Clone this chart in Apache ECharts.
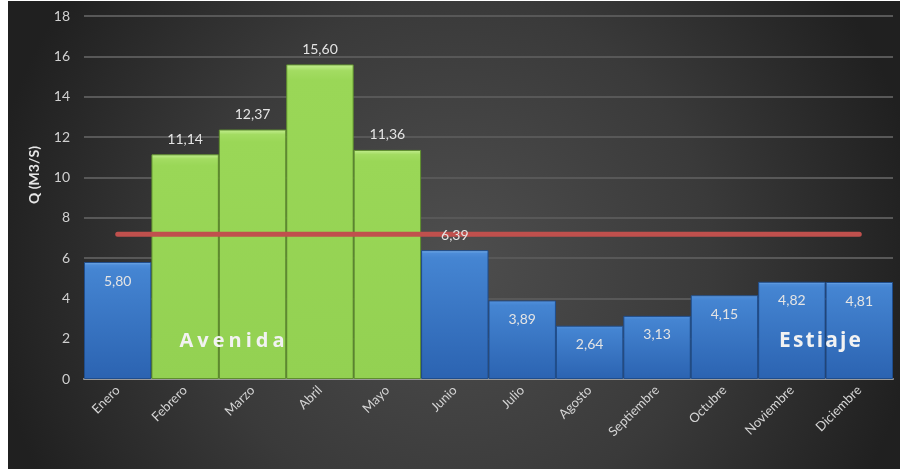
<!DOCTYPE html>
<html>
<head>
<meta charset="utf-8">
<script src="https://cdn.jsdelivr.net/npm/echarts@6/dist/echarts.min.js"></script>
<style>
  html, body { margin: 0; padding: 0; background: #ffffff; }
  #chart { position: absolute; left: 8px; top: 1px; width: 892px; height: 468px; }
</style>
</head>
<body>
<div id="chart"></div>
<script>
// Monthly discharge (m3/s)
const months = ['Enero', 'Febrero', 'Marzo', 'Abril', 'Mayo', 'Junio', 'Julio',
  'Agosto', 'Septiembre', 'Octubre', 'Noviembre', 'Diciembre'];
const caudal = [5.80, 11.14, 12.37, 15.60, 11.36, 6.39, 3.89, 2.64, 3.13, 4.15, 4.82, 4.81];
// Wet season months (Avenida) drawn in green
const avenida = [false, true, true, true, true, false, false, false, false, false, false, false];
// Annual mean discharge line
const caudalMedio = [7.18, 7.18, 7.18, 7.18, 7.18, 7.18, 7.18, 7.18, 7.18, 7.18, 7.18, 7.18];
const yTicks = [0, 2, 4, 6, 8, 10, 12, 14, 16, 18];

const FONT = 'Lato, "Open Sans", sans-serif';
const HS = '\u200A';

const blueFill = new echarts.graphic.LinearGradient(0, 0, 0, 1, [
  { offset: 0, color: '#7fb4ec' },
  { offset: 0.025, color: '#4d8cd8' },
  { offset: 0.06, color: '#4585d2' },
  { offset: 1, color: '#2b63b1' }
]);
const greenFill = new echarts.graphic.LinearGradient(0, 0, 0, 1, [
  { offset: 0, color: '#c6ef93' },
  { offset: 0.02, color: '#a3dc62' },
  { offset: 0.05, color: '#9ad757' },
  { offset: 1, color: '#93d152' }
]);

const barData = caudal.map((v, i) => {
  const wet = avenida[i];
  return {
    value: v,
    itemStyle: {
      color: wet ? greenFill : blueFill,
      borderColor: wet ? '#5f8f2e' : '#1f4d8c',
      borderWidth: 1
    }
  };
});

// value labels, drawn on top of the mean line
const labelData = caudal.map((v, i) => {
  const above = avenida[i] || v > 6;
  return {
    value: v,
    label: {
      show: true,
      position: above ? 'top' : 'insideTop',
      distance: above ? 8 : 12
    }
  };
});

const chart = echarts.init(document.getElementById('chart'));
chart.setOption({
  animation: false,
  backgroundColor: new echarts.graphic.RadialGradient(0.5, 0.55, 1.0, [
    { offset: 0, color: '#4e4e4e' },
    { offset: 0.55, color: '#3a3a3a' },
    { offset: 1, color: '#202020' }
  ]),
  grid: { left: 76, right: 7, top: 15, bottom: 90 },
  xAxis: {
    type: 'category',
    data: months,
    axisTick: { show: false },
    axisLine: { lineStyle: { color: '#9a9a9a', width: 2 } },
    axisLabel: {
      rotate: 45,
      color: '#d4d4d4',
      fontSize: 13,
      fontFamily: FONT,
      interval: 0,
      margin: 9
    }
  },
  yAxis: {
    type: 'value',
    min: yTicks[0],
    max: yTicks[yTicks.length - 1],
    interval: 2,
    axisLine: { show: false },
    axisTick: { show: false },
    axisLabel: { color: '#d0d0d0', fontSize: 14, fontFamily: FONT, margin: 14 },
    splitLine: { lineStyle: { color: '#585858', width: 2 } }
  },
  series: [
    {
      type: 'bar',
      data: barData,
      barWidth: '100%',
      barGap: '-100%',
      barCategoryGap: '0%',
      z: 2
    },
    {
      type: 'line',
      data: caudalMedio,
      symbol: 'none',
      lineStyle: { color: '#c0504d', width: 5, cap: 'round' },
      z: 3
    },
    {
      type: 'bar',
      data: labelData,
      barWidth: '100%',
      barGap: '-100%',
      itemStyle: { color: 'rgba(0,0,0,0)' },
      silent: true,
      z: 4,
      label: {
        color: '#e4e4e4',
        fontSize: 14,
        fontFamily: FONT,
        formatter: p => p.value.toFixed(2).replace('.', ',')
      }
    }
  ],
  graphic: [
    {
      type: 'text',
      x: 26, y: 174,
      rotation: Math.PI / 2,
      style: {
        text: 'Q (M3/S)',
        fill: '#e6e6e6',
        font: 'bold 14px ' + FONT,
        align: 'center',
        verticalAlign: 'middle'
      }
    },
    {
      type: 'text',
      x: 224, y: 340,
      style: {
        text: 'Avenida'.split('').join(HS + HS),
        fill: '#f2f2f2',
        font: 'bold 20px "Open Sans", sans-serif',
        align: 'center',
        verticalAlign: 'middle',
        shadowColor: 'rgba(0,0,0,0.6)',
        shadowBlur: 3,
        shadowOffsetX: 1,
        shadowOffsetY: 2
      },
      z: 10
    },
    {
      type: 'text',
      x: 812, y: 340,
      style: {
        text: 'Estiaje'.split('').join(HS),
        fill: '#f2f2f2',
        font: 'bold 21px "Open Sans", sans-serif',
        align: 'center',
        verticalAlign: 'middle',
        shadowColor: 'rgba(0,0,0,0.6)',
        shadowBlur: 3,
        shadowOffsetX: 1,
        shadowOffsetY: 2
      },
      z: 10
    }
  ]
});
</script>
</body>
</html>
